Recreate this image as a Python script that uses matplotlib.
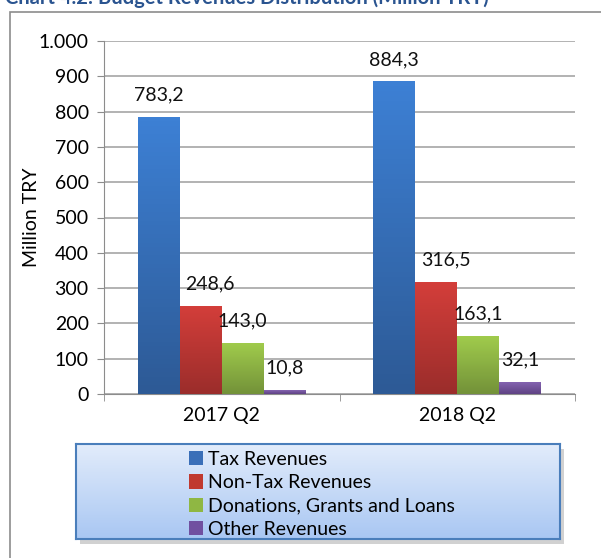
import numpy as np
import matplotlib.pyplot as plt
from matplotlib.colors import LinearSegmentedColormap
from matplotlib.patches import Rectangle, Patch

# budget revenues, million TRY
quarters = ["2017 Q2", "2018 Q2"]
series = ["Tax Revenues", "Non-Tax Revenues", "Donations, Grants and Loans", "Other Revenues"]
tax = [783.2, 884.3]
nontax = [248.6, 316.5]
donations = [143.0, 163.1]
other = [10.8, 32.1]
values = [tax, nontax, donations, other]

# (top, bottom) gradient colours for each series
shades = [("#3d80d4", "#2d5a96"), ("#d33e3a", "#9b2d2b"),
          ("#a0cb4c", "#739239"), ("#8463b0", "#5f4384")]
flat = ["#3a6fb8", "#c0392f", "#8fb743", "#7050a0"]

def fmt(v):
    return f"{v:.1f}".replace(".", ",")

plt.rcParams['font.family'] = ['Lato', 'DejaVu Sans']
FS = 14

W, H = 601, 558
fig = plt.figure(figsize=(W / 100, H / 100), dpi=100)

# outer frame and clipped heading
fig.patches.append(Rectangle((10 / W, -0.01), 1.0, 1 - 12 / H + 0.01, transform=fig.transFigure,
                             fill=False, edgecolor="#8c8c8c", lw=1.2, zorder=-2))
fig.text(5 / W, 1 - 4 / H, "Chart 4.2: Budget Revenues Distribution (Million TRY)",
         fontsize=14.5, fontweight="bold", color="#2a5490", va="baseline", ha="left")

ax = fig.add_axes([104 / W, 1 - 394 / H, 471 / W, 353 / H])

w = 0.178
x = np.arange(len(quarters))
for i, (vals, (top, bot)) in enumerate(zip(values, shades)):
    cmap = LinearSegmentedColormap.from_list(f"g{i}", [bot, top])
    for xc, v in zip(x + (i - 1.5) * w, vals):
        grad = np.linspace(1, 0, 64).reshape(-1, 1)
        ax.imshow(grad, cmap=cmap, extent=(xc - w / 2, xc + w / 2, 0, v),
                  aspect="auto", zorder=3, vmin=0, vmax=1)
        dx = 0.04 if (i == 1) else 0.0
        ax.annotate(fmt(v), (xc + dx, v), xytext=(0, 10), textcoords="offset points",
                    ha="center", va="bottom", fontsize=FS, color="#111111", zorder=4)
ax.set_xlim(-0.5, 1.5)
ax.set_ylim(0, 1000)

ax.set_yticks(np.arange(0, 1001, 100))
ax.set_yticklabels([f"{t:,}".replace(",", ".") for t in range(0, 1001, 100)], fontsize=FS)
ax.yaxis.grid(True, color="#a6a6a6", lw=1.2, zorder=0)
ax.set_axisbelow(True)
ax.set_xticks(x)
ax.set_xticklabels(quarters, fontsize=FS)
ax.set_xticks([-0.5, 0.5, 1.5], minor=True)
ax.tick_params(axis="x", which="major", length=0, pad=9)
ax.tick_params(axis="x", which="minor", length=5, color="#8c8c8c")
ax.tick_params(axis="y", length=5, color="#8c8c8c", pad=6)
for s in ["top", "right"]:
    ax.spines[s].set_visible(False)
for s in ["left", "bottom"]:
    ax.spines[s].set_color("#8c8c8c")
ax.set_ylabel("Million TRY", fontsize=FS)
ax.yaxis.set_label_coords(-0.135, 0.5)

# legend box with gradient fill and shadow
lx0, ly0, lx1, ly1 = 76, 444, 560, 539
fig.patches.append(Rectangle(((lx0 + 4) / W, 1 - (ly1 + 5) / H), (lx1 - lx0) / W, (ly1 - ly0) / H,
                             transform=fig.transFigure, color="#9a9a9a", alpha=0.45, lw=0, zorder=-1))
lax = fig.add_axes([lx0 / W, 1 - ly1 / H, (lx1 - lx0) / W, (ly1 - ly0) / H])
lcm = LinearSegmentedColormap.from_list("lg", ["#a9c7f3", "#e2ecfb"])
lax.imshow(np.linspace(1, 0, 64).reshape(-1, 1), cmap=lcm, extent=(0, 1, 0, 1), aspect="auto")
lax.set_xlim(0, 1)
lax.set_ylim(0, 1)
lax.set_xticks([])
lax.set_yticks([])
for s in lax.spines.values():
    s.set_color("#4a7ebb")
    s.set_linewidth(1.5)
handles = [Patch(facecolor=c, edgecolor="none") for c in flat]
lax.legend(handles, series, loc="center left", bbox_to_anchor=(0.233, 0.47), frameon=False,
           fontsize=FS, handlelength=0.75, handleheight=0.75, handletextpad=0.25,
           labelspacing=0.32, borderaxespad=0, borderpad=0)

fig.savefig("out.png", dpi=100)
